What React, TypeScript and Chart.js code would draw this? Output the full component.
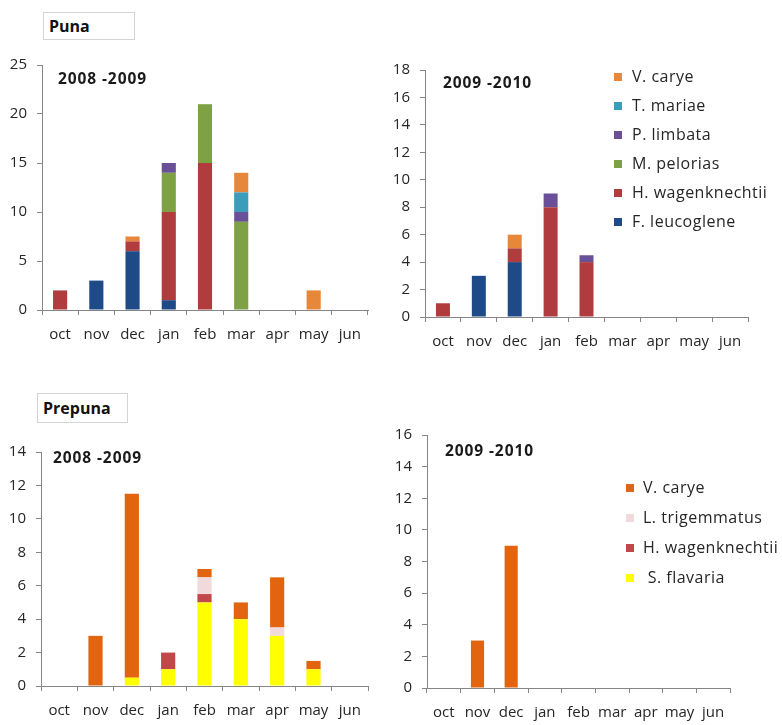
import React, { useEffect, useRef } from 'react';
import { Chart, registerables } from 'chart.js';
Chart.register(...registerables);

// ---------- data ----------
const months = ['oct', 'nov', 'dec', 'jan', 'feb', 'mar', 'apr', 'may', 'jun'];

// Puna 2008-2009
const puna0809_Fleucoglene = [0, 3, 6, 1, 0, 0, 0, 0, 0];
const puna0809_Hwagenknechtii = [2, 0, 1, 9, 15, 0, 0, 0, 0];
const puna0809_Mpelorias = [0, 0, 0, 4, 6, 9, 0, 0, 0];
const puna0809_Plimbata = [0, 0, 0, 1, 0, 1, 0, 0, 0];
const puna0809_Tmariae = [0, 0, 0, 0, 0, 2, 0, 0, 0];
const puna0809_Vcarye = [0, 0, 0.5, 0, 0, 2, 0, 2, 0];

// Puna 2009-2010
const puna0910_Fleucoglene = [0, 3, 4, 0, 0, 0, 0, 0, 0];
const puna0910_Hwagenknechtii = [1, 0, 1, 8, 4, 0, 0, 0, 0];
const puna0910_Mpelorias = [0, 0, 0, 0, 0, 0, 0, 0, 0];
const puna0910_Plimbata = [0, 0, 0, 1, 0.5, 0, 0, 0, 0];
const puna0910_Tmariae = [0, 0, 0, 0, 0, 0, 0, 0, 0];
const puna0910_Vcarye = [0, 0, 1, 0, 0, 0, 0, 0, 0];

// Prepuna 2008-2009
const prepuna0809_Sflavaria = [0, 0, 0.5, 1, 5, 4, 3, 1, 0];
const prepuna0809_Hwagenknechtii = [0, 0, 0, 1, 0.5, 0, 0, 0, 0];
const prepuna0809_Ltrigemmatus = [0, 0, 0, 0, 1, 0, 0.5, 0, 0];
const prepuna0809_Vcarye = [0, 3, 11, 0, 0.5, 1, 3, 0.5, 0];

// Prepuna 2009-2010
const prepuna0910_Sflavaria = [0, 0, 0, 0, 0, 0, 0, 0, 0];
const prepuna0910_Hwagenknechtii = [0, 0, 0, 0, 0, 0, 0, 0, 0];
const prepuna0910_Ltrigemmatus = [0, 0, 0, 0, 0, 0, 0, 0, 0];
const prepuna0910_Vcarye = [0, 3, 9, 0, 0, 0, 0, 0, 0];

// ---------- styles ----------
const FONT = '"Open Sans"';
const TEXT = '#262626';
const AXIS = '#868686';

const punaColors = {
  F: '#1E4A88',
  H: '#B03C3D',
  M: '#7EA143',
  P: '#6A4F99',
  T: '#3B9DB9',
  V: '#E7873A',
};
const prepunaColors = {
  S: '#FFFF00',
  H: '#C0474A',
  L: '#F0DADB',
  V: '#E2640E',
};

const punaSets = (F: number[], H: number[], M: number[], P: number[], T: number[], V: number[]) => [
  { label: 'F. leucoglene', data: F, backgroundColor: punaColors.F },
  { label: 'H. wagenknechtii', data: H, backgroundColor: punaColors.H },
  { label: 'M. pelorias', data: M, backgroundColor: punaColors.M },
  { label: 'P. limbata', data: P, backgroundColor: punaColors.P },
  { label: 'T. mariae', data: T, backgroundColor: punaColors.T },
  { label: 'V. carye', data: V, backgroundColor: punaColors.V },
];
const prepunaSets = (S: number[], H: number[], L: number[], V: number[]) => [
  { label: ' S. flavaria', data: S, backgroundColor: prepunaColors.S },
  { label: 'H. wagenknechtii', data: H, backgroundColor: prepunaColors.H },
  { label: 'L. trigemmatus', data: L, backgroundColor: prepunaColors.L },
  { label: 'V. carye', data: V, backgroundColor: prepunaColors.V },
];

const panelTextPlugin = {
  id: 'panelText',
  afterDraw(chart: any, _args: any, opts: any) {
    const ctx = chart.ctx;
    ctx.save();
    ctx.textBaseline = 'middle';
    ctx.textAlign = 'left';
    if (opts.subtitle) {
      ctx.font = `bold 15.5px ${FONT}`;
      ctx.letterSpacing = '0.9px';
      ctx.fillStyle = '#1a1a1a';
      ctx.fillText(opts.subtitle.text, opts.subtitle.x, opts.subtitle.y);
    }
    if (opts.legend) {
      const L = opts.legend;
      const ds = [...chart.data.datasets].reverse();
      ctx.font = `16px ${FONT}`;
      ctx.letterSpacing = '0.5px';
      ds.forEach((d: any, i: number) => {
        const y = L.y + i * L.dy;
        ctx.fillStyle = d.backgroundColor;
        ctx.fillRect(L.x, y - 4, 8, 8);
        ctx.fillStyle = TEXT;
        ctx.fillText(d.label, L.x + L.gap, y);
      });
    }
    ctx.restore();
  },
};

type PanelProps = {
  left: number; top: number; width: number; height: number;
  area: { l: number; t: number; r: number; b: number };
  datasets: any[];
  yMax: number; yStep: number;
  subtitle: { text: string; x: number; y: number };
  legend?: { x: number; y: number; dy: number; gap: number };
};

function Panel(p: PanelProps) {
  const ref = useRef<HTMLCanvasElement>(null);
  useEffect(() => {
    const tickFont = { family: FONT, size: 15 };
    const chart = new Chart(ref.current!, {
      type: 'bar',
      data: {
        labels: months,
        datasets: p.datasets.map((d) => ({
          ...d,
          data: d.data.map((v: number) => (v === 0 ? null : v)),
          borderWidth: 0,
          barPercentage: 0.39,
          categoryPercentage: 1,
        })),
      },
      plugins: [panelTextPlugin],
      options: {
        responsive: false,
        maintainAspectRatio: false,
        animation: false,
        layout: { padding: { left: 0, top: p.area.t, right: p.width - p.area.r, bottom: 0 } },
        scales: {
          x: {
            stacked: true,
            offset: true,
            grid: {
              display: true,
              drawOnChartArea: false,
              drawTicks: true,
              tickLength: 5,
              offset: true,
              color: AXIS,
            },
            border: { display: true, color: AXIS, width: 1 },
            ticks: { font: tickFont, color: TEXT, padding: 11, maxRotation: 0, autoSkip: false },
            afterFit: (s: any) => { s.height = p.height - p.area.b; },
          },
          y: {
            stacked: true,
            min: 0,
            max: p.yMax,
            grid: {
              display: true,
              drawOnChartArea: false,
              drawTicks: true,
              tickLength: 5,
              color: AXIS,
            },
            border: { display: true, color: AXIS, width: 1 },
            ticks: { stepSize: p.yStep, font: tickFont, color: TEXT, padding: 10 },
            afterFit: (s: any) => { s.width = p.area.l; },
          },
        },
        plugins: {
          legend: { display: false },
          tooltip: { enabled: false },
          panelText: { subtitle: p.subtitle, legend: p.legend },
        } as any,
      },
    });
    return () => chart.destroy();
  }, []);
  return (
    <canvas
      ref={ref}
      width={p.width}
      height={p.height}
      style={{ position: 'absolute', left: p.left, top: p.top, width: p.width, height: p.height, display: 'block' }}
    />
  );
}

const boxStyle = (left: number, top: number, w: number, h: number): React.CSSProperties => ({
  position: 'absolute',
  left, top, width: w, height: h,
  boxSizing: 'border-box',
  border: '1px solid #d4d4d4',
  fontFamily: FONT,
  fontWeight: 'bold',
  fontSize: 16,
  color: '#111',
  paddingLeft: 5,
  lineHeight: `${h - 2}px`,
  background: '#fff',
});

export default function App() {
  return (
    <div style={{ position: 'absolute', left: 0, top: 0, width: 782, height: 725, background: '#fff', overflow: 'hidden' }}>
      <Panel
        left={0} top={0} width={390} height={360}
        area={{ l: 42, t: 65, r: 368, b: 310 }}
        datasets={punaSets(puna0809_Fleucoglene, puna0809_Hwagenknechtii, puna0809_Mpelorias, puna0809_Plimbata, puna0809_Tmariae, puna0809_Vcarye)}
        yMax={25} yStep={5}
        subtitle={{ text: '2008 -2009', x: 58, y: 80 }}
      />
      <Panel
        left={390} top={0} width={392} height={360}
        area={{ l: 35, t: 70, r: 358, b: 317 }}
        datasets={punaSets(puna0910_Fleucoglene, puna0910_Hwagenknechtii, puna0910_Mpelorias, puna0910_Plimbata, puna0910_Tmariae, puna0910_Vcarye)}
        yMax={18} yStep={2}
        subtitle={{ text: '2009 -2010', x: 53, y: 84 }}
        legend={{ x: 224, y: 77, dy: 29, gap: 18 }}
      />
      <Panel
        left={0} top={380} width={390} height={345}
        area={{ l: 41, t: 72, r: 368, b: 306 }}
        datasets={prepunaSets(prepuna0809_Sflavaria, prepuna0809_Hwagenknechtii, prepuna0809_Ltrigemmatus, prepuna0809_Vcarye)}
        yMax={14} yStep={2}
        subtitle={{ text: '2008 -2009', x: 53, y: 79 }}
      />
      <Panel
        left={390} top={380} width={392} height={345}
        area={{ l: 37, t: 55, r: 340, b: 308 }}
        datasets={prepunaSets(prepuna0910_Sflavaria, prepuna0910_Hwagenknechtii, prepuna0910_Ltrigemmatus, prepuna0910_Vcarye)}
        yMax={16} yStep={2}
        subtitle={{ text: '2009 -2010', x: 55, y: 72 }}
        legend={{ x: 236, y: 108, dy: 30, gap: 17 }}
      />
      <div style={boxStyle(43, 12, 92, 28)}>Puna</div>
      <div style={boxStyle(37, 393, 91, 30)}>Prepuna</div>
    </div>
  );
}
